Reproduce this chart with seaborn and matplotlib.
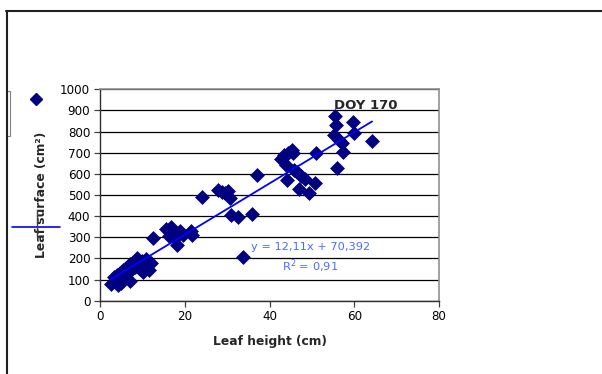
import numpy as np
import pandas as pd
import matplotlib
matplotlib.use("Agg")
import matplotlib.pyplot as plt
from matplotlib.lines import Line2D
from matplotlib.patches import Rectangle
import seaborn as sns

# ---- data ----
leaf_height = [2.5, 3.2, 3.5, 4.0, 4.2, 4.8, 5.0, 5.5, 5.8, 6.2, 6.5, 7.0, 7.0, 7.5, 8.0, 8.2,
               8.8, 9.0, 9.5, 10.0, 10.2, 10.8, 11.2, 11.5, 12.0, 12.5,
               15.5, 16.2, 16.8, 17.2, 17.8, 18.2, 18.8, 19.5, 21.5, 21.8,
               24.0, 27.8, 28.8, 29.5, 30.3, 30.6, 30.8, 32.6, 33.8, 35.8, 37.0,
               42.8, 43.5, 44.0, 44.3, 44.1, 45.2, 45.5, 45.8, 46.5, 47.0, 47.5, 48.3,
               49.3, 50.8, 51.0, 55.2, 55.5, 55.6, 55.9, 56.5, 57.2, 57.4, 59.8, 60.0, 64.2]
leaf_surface = [80, 110, 95, 120, 75, 130, 85, 145, 150, 120, 165, 95, 175, 150, 185, 160,
                200, 175, 150, 190, 135, 195, 170, 145, 180, 295,
                340, 305, 350, 320, 295, 262, 330, 310, 330, 310,
                492, 525, 515, 510, 520, 485, 405, 395, 205, 410, 595,
                670, 690, 640, 700, 570, 712, 700, 620, 610, 530, 590, 575,
                508, 555, 698, 783, 875, 830, 628, 760, 745, 703, 845, 792, 757]
slope = 12.11
intercept = 70.392
r_squared = 0.91
x_ticks = [0, 20, 40, 60, 80]
y_ticks = list(range(0, 1001, 100))

df = pd.DataFrame({"h": leaf_height, "s": leaf_surface})

sns.set_theme(style="white")
plt.rcParams['font.family'] = ['DejaVu Sans']

fig = plt.figure(figsize=(6.02, 3.74), dpi=100)
ax = fig.add_axes([100/602, 1-300.7/374, 339/602, 211.4/374])

sns.scatterplot(data=df, x="h", y="s", marker="D", s=50, color="#000080",
                edgecolor="#000080", linewidth=0.5, ax=ax, zorder=3, legend=False)

xl = np.array([min(leaf_height), max(leaf_height)])
sns.lineplot(x=xl, y=slope*xl + intercept, color="#0000ff", linewidth=1.3, ax=ax, zorder=4)

ax.set_xlim(0, 80)
ax.set_ylim(0, 1000)
ax.set_xticks(x_ticks)
ax.set_yticks(y_ticks)
ax.set_xticklabels([str(v) for v in x_ticks], fontsize=8.6)
ax.set_yticklabels([str(v) for v in y_ticks], fontsize=8.6)
ax.yaxis.grid(True, color="black", linewidth=0.9)
ax.xaxis.grid(False)
ax.set_axisbelow(True)
ax.tick_params(axis="both", direction="out", length=4, width=0.9, color="#404040",
               left=True, bottom=True, pad=3, labelcolor="black")
for side in ["top", "right"]:
    ax.spines[side].set_color("#909090")
    ax.spines[side].set_linewidth(1.2)
for side in ["left", "bottom"]:
    ax.spines[side].set_color("#303030")
    ax.spines[side].set_linewidth(1.0)

ax.set_xlabel("Leaf height (cm)", fontsize=8.8, fontweight="bold", labelpad=8)
ax.set_ylabel("Leaf surface (cm²)", fontsize=8.8, fontweight="bold")
ax.yaxis.set_label_coords(-52/339, 0.5)

ax.text(62.8, 925, "DOY 170", fontsize=9.5, fontweight="bold", ha="center", va="center")
ax.text(49.6, 253, "y = 12,11x + 70,392", fontsize=8.2, color="#4a6cff", ha="center", va="center")
ax.text(49.6, 164, "R$^2$ = 0,91", fontsize=8.2, color="#4a6cff", ha="center", va="center")

# outer chart frame and clipped legend fragments
fig.add_artist(Line2D([6/602, 1.0], [1-11/374, 1-11/374], color="#202020", linewidth=1.5,
                      transform=fig.transFigure))
fig.add_artist(Line2D([7/602, 7/602], [0, 1-11/374], color="#202020", linewidth=1.5,
                      transform=fig.transFigure))
fig.add_artist(Rectangle((7/602, 1-136/374), 3/602, 45/374, fill=False, edgecolor="#808080",
                         linewidth=0.8, transform=fig.transFigure))
fig.add_artist(Line2D([36/602], [1-99/374], marker="D", markersize=6, color="#000080",
                      linestyle="none", transform=fig.transFigure))
fig.add_artist(Line2D([12/602, 60/602], [1-227/374, 1-227/374], color="#0000ff", linewidth=1.2,
                      transform=fig.transFigure))
fig.add_artist(Line2D([37/602, 37/602], [1-237/374, 1-210/374], color="#404040", linewidth=1.0,
                      transform=fig.transFigure))

fig.savefig("out.png", dpi=100)
